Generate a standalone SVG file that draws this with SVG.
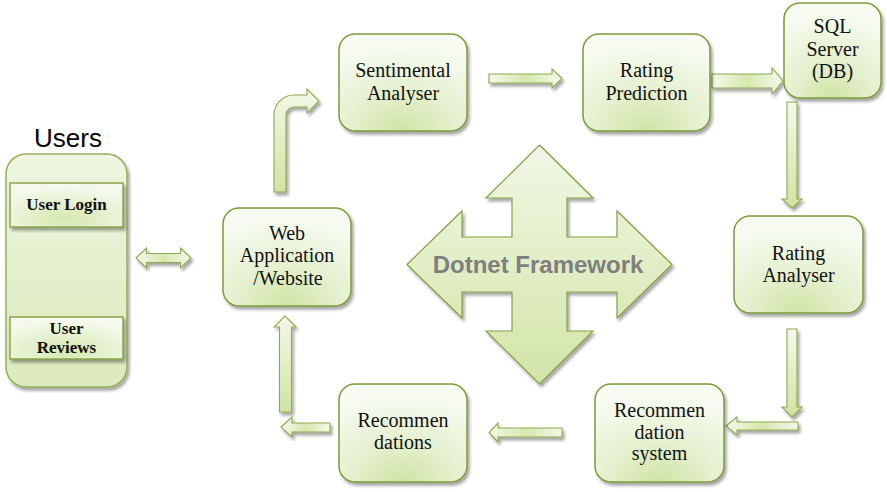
<svg xmlns="http://www.w3.org/2000/svg" width="887" height="492" viewBox="0 0 887 492">
<defs>
  <radialGradient id="gNode" cx="0.5" cy="1" r="0.9">
    <stop offset="0" stop-color="#d1e4a4"/>
    <stop offset="0.45" stop-color="#e4f0cf"/>
    <stop offset="1" stop-color="#f7fbf1"/>
  </radialGradient>
  <radialGradient id="gInner" cx="0.5" cy="0.8" r="0.7">
    <stop offset="0" stop-color="#d6e8b0"/>
    <stop offset="1" stop-color="#f4f9ec"/>
  </radialGradient>
  <linearGradient id="gPanel" x1="0" y1="0" x2="0" y2="1">
    <stop offset="0" stop-color="#eef5e0"/>
    <stop offset="1" stop-color="#dbeabb"/>
  </linearGradient>
  <linearGradient id="gArrowV" x1="0" y1="0" x2="0" y2="1">
    <stop offset="0" stop-color="#f3f9ea"/>
    <stop offset="1" stop-color="#d0e4a3"/>
  </linearGradient>
  <linearGradient id="gArrowH" x1="0" y1="0" x2="1" y2="0">
    <stop offset="0" stop-color="#f3f9ea"/>
    <stop offset="0.5" stop-color="#d6e8ae"/>
    <stop offset="1" stop-color="#f3f9ea"/>
  </linearGradient>
  <linearGradient id="gCross" x1="0" y1="0" x2="0" y2="1">
    <stop offset="0" stop-color="#f1f7e6"/>
    <stop offset="1" stop-color="#d2e5a6"/>
  </linearGradient>
  <filter id="shadow" x="-20%" y="-20%" width="140%" height="140%">
    <feDropShadow dx="2" dy="3" stdDeviation="1.6" flood-color="#000" flood-opacity="0.35"/>
  </filter>
</defs>
<style>
  .node { fill: url(#gNode); stroke: #7d9a39; stroke-width: 1.5; filter: url(#shadow); }
  .inner { fill: url(#gInner); stroke: #7d9a39; stroke-width: 1.3; filter: url(#shadow); }
  .panel { fill: url(#gPanel); stroke: #98ad5a; stroke-width: 1.5; filter: url(#shadow); }
  .arrH { fill: url(#gArrowH); stroke: #8fa850; stroke-width: 1.1; filter: url(#shadow); }
  .arrV { fill: url(#gArrowV); stroke: #8fa850; stroke-width: 1.1; filter: url(#shadow); }
  .cross { fill: url(#gCross); stroke: #869f42; stroke-width: 1.2; filter: url(#shadow); }
  .lbl { font-family: "Liberation Serif", "Times New Roman", serif; font-size: 20px; fill: #111; text-anchor: middle; }
  .blbl { font-family: "Liberation Serif", "Times New Roman", serif; font-size: 17px; font-weight: bold; fill: #111; text-anchor: middle; }
  .title { font-family: "Liberation Sans", Arial, sans-serif; font-size: 26px; fill: #000; text-anchor: middle; }
  .fw { font-family: "Liberation Sans", Arial, sans-serif; font-size: 24px; font-weight: bold; fill: #7f7f7f; text-anchor: middle; }
</style>
<rect width="887" height="492" fill="#fff"/>

<g id="framework">
  <polygon class="cross" points="539.5,145 593,198 567,198 567,237 617,237 617,211 672,264.5 617,318 617,292 567,292 567,331 593,331 539.5,384 486,331 512,331 512,292 462,292 462,318 407,264.5 462,211 462,237 512,237 512,198 486,198"/>
  <text class="fw" x="538" y="273">Dotnet Framework</text>
</g>

<g id="connectors">
  <polygon class="arrH" points="136,258 146.5,248 146.5,253.5 180.5,253.5 180.5,248 191,258 180.5,268 180.5,262.5 146.5,262.5 146.5,268"/>
  <path class="arrV" d="M274,192 V115 A20,20 0 0 1 294,95 H307 V89 L319,101 L307,113 V107 H294 A8,8 0 0 0 286,115 V192 Z"/>
  <polygon class="arrH" points="489,74 552,74 552,69 562,78.5 552,88 552,83 489,83"/>
  <polygon class="arrH" points="712,74 772,74 772,68 783,81 772,94 772,88 712,88"/>
  <polygon class="arrV" points="787,102 797,102 797,199 802,199 792,208 782,199 787,199"/>
  <polygon class="arrV" points="787,329 797,329 797,407 802,407 792,417 782,407 787,407"/>
  <polygon class="arrH" points="798,422 798,430 737,430 737,435 726,426 737,417 737,422"/>
  <polygon class="arrH" points="562,428 562,437 498,437 498,442 489,432.5 498,423 498,428"/>
  <polygon class="arrH" points="330,423 330,432 292,432 292,437 281,427 292,417 292,423"/>
  <polygon class="arrV" points="279.5,412 279.5,327 274,327 285,316 296,327 291.5,327 291.5,412"/>
</g>

<g id="users">
  <text class="title" x="68" y="147">Users</text>
  <rect class="panel" x="6" y="154" width="121" height="233" rx="20"/>
  <g id="user-login">
    <rect class="inner" x="10" y="183" width="113" height="44"/>
    <text class="blbl" x="66.5" y="210">User Login</text>
  </g>
  <g id="user-reviews">
    <rect class="inner" x="10" y="317" width="113" height="42"/>
    <text class="blbl" x="66.5" y="334">User</text>
    <text class="blbl" x="66.5" y="353">Reviews</text>
  </g>
</g>

<g id="web-app">
  <rect class="node" x="223" y="208" width="128" height="98" rx="16"/>
  <text class="lbl" x="287" y="240">Web</text>
  <text class="lbl" x="287" y="262">Application</text>
  <text class="lbl" x="288" y="285">/Website</text>
</g>

<g id="sentimental">
  <rect class="node" x="339" y="34" width="128" height="97" rx="16"/>
  <text class="lbl" x="403" y="77">Sentimental</text>
  <text class="lbl" x="403" y="99.5">Analyser</text>
</g>

<g id="rating-prediction">
  <rect class="node" x="583" y="34" width="127" height="97" rx="16"/>
  <text class="lbl" x="646.5" y="77">Rating</text>
  <text class="lbl" x="646.5" y="99.5">Prediction</text>
</g>

<g id="sql-server">
  <rect class="node" x="784" y="3" width="97" height="95" rx="16"/>
  <text class="lbl" x="832.5" y="33">SQL</text>
  <text class="lbl" x="832.5" y="55.5">Server</text>
  <text class="lbl" x="832.5" y="78">(DB)</text>
</g>

<g id="rating-analyser">
  <rect class="node" x="734" y="216" width="129" height="97" rx="16"/>
  <text class="lbl" x="798.5" y="260">Rating</text>
  <text class="lbl" x="798.5" y="282">Analyser</text>
</g>

<g id="recommendation-system">
  <rect class="node" x="595" y="384" width="129" height="98" rx="16"/>
  <text class="lbl" x="659.5" y="417">Recommen</text>
  <text class="lbl" x="659.5" y="438.5">dation</text>
  <text class="lbl" x="659.5" y="460">system</text>
</g>

<g id="recommendations">
  <rect class="node" x="339" y="384" width="128" height="98" rx="16"/>
  <text class="lbl" x="403" y="427">Recommen</text>
  <text class="lbl" x="403" y="449">dations</text>
</g>
</svg>
